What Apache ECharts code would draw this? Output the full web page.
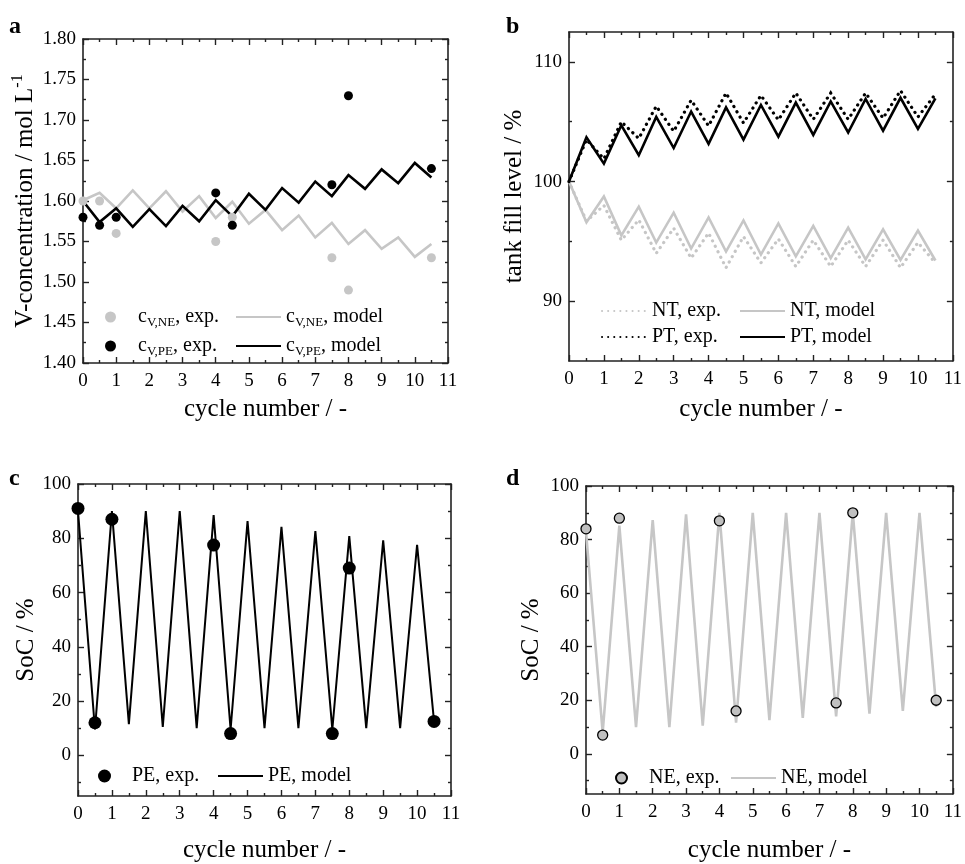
<!DOCTYPE html>
<html>
<head>
<meta charset="utf-8">
<script src="https://cdn.jsdelivr.net/npm/echarts@6/dist/echarts.min.js"></script>
<style>
html, body { margin: 0; padding: 0; background: #fff; }
#chart1 { width: 965px; height: 864px; }
</style>
</head>
<body>
<div id="chart1"></div>
<script>
// half-cycle grid used by all model / tank curves
const cycles = [0, 0.5, 1, 1.5, 2, 2.5, 3, 3.5, 4, 4.5, 5, 5.5, 6, 6.5, 7, 7.5, 8, 8.5, 9, 9.5, 10, 10.5];
const expCycles = [0, 0.5, 1, 4, 4.5, 7.5, 8, 10.5];

// a) vanadium concentration
const cNeModel = [1.601, 1.610, 1.591, 1.613, 1.591, 1.612, 1.587, 1.606, 1.579, 1.599, 1.572, 1.589, 1.564, 1.582, 1.555, 1.573, 1.547, 1.564, 1.541, 1.555, 1.531, 1.547];
const cPeModel = [1.600, 1.574, 1.591, 1.568, 1.590, 1.569, 1.594, 1.575, 1.601, 1.581, 1.609, 1.589, 1.616, 1.598, 1.624, 1.606, 1.632, 1.615, 1.639, 1.622, 1.647, 1.629];
const cNeExp = [1.60, 1.60, 1.56, 1.55, 1.58, 1.53, 1.49, 1.53];
const cPeExp = [1.58, 1.57, 1.58, 1.61, 1.57, 1.62, 1.73, 1.64];

// b) tank fill level
const ntExp = [100, 96.7, 98.0, 95.1, 96.8, 94.0, 96.1, 93.6, 95.7, 92.8, 95.4, 93.2, 95.2, 92.9, 95.1, 92.9, 95.1, 92.9, 95.1, 92.8, 94.9, 93.2];
const ntModel = [100, 96.6, 98.75, 95.5, 97.9, 94.9, 97.4, 94.4, 97.0, 94.15, 96.75, 93.9, 96.5, 93.75, 96.3, 93.6, 96.15, 93.5, 96.0, 93.45, 95.9, 93.4];
const ptExp = [100, 103.5, 101.9, 105.0, 103.6, 106.3, 104.2, 106.8, 104.65, 107.4, 104.9, 107.2, 105.15, 107.4, 105.2, 107.4, 105.2, 107.4, 105.3, 107.6, 105.4, 107.3];
const ptModel = [100, 103.7, 101.5, 104.7, 102.2, 105.4, 102.8, 105.85, 103.15, 106.2, 103.5, 106.4, 103.75, 106.6, 103.9, 106.7, 104.1, 106.9, 104.25, 107.0, 104.4, 106.95];

// c) SoC positive electrolyte
const peModel = [90, 9.5, 90, 11.5, 90, 10.5, 90, 10, 88.5, 9.5, 86.3, 10, 84.2, 10, 82.6, 9.5, 80.8, 10, 79.2, 10, 77.6, 12.4];
const peExp = [91, 12, 87, 77.5, 8, 8, 69, 12.5];

// d) SoC negative electrolyte
const neModel = [83, 8, 85.2, 10, 87.3, 10, 89.4, 10.5, 90, 11.6, 90, 12.6, 90, 13.4, 90, 14, 90, 15, 90, 16, 90, 17.4];
const neExp = [84, 7, 88, 87, 16, 19, 90, 20];

// axis ticks
const concMajor = [1.40, 1.45, 1.50, 1.55, 1.60, 1.65, 1.70, 1.75, 1.80];
const concMinor = [1.425, 1.475, 1.525, 1.575, 1.625, 1.675, 1.725, 1.775];
const tankMajor = [90, 100, 110];
const tankMinor = [95, 105];
const socMajor = [0, 20, 40, 60, 80, 100];
const socMinor = [-10, 10, 30, 50, 70, 90];

const GRAY = '#c6c6c6';
const FONT = '"Liberation Serif", "Times New Roman", serif';
const AXIS = '#222';

const pair = (xs, ys) => xs.map((x, i) => [x, ys[i]]);

const grids = [
    { left: 83, top: 39, width: 365, height: 324 },
    { left: 569, top: 32, width: 386, height: 329 },
    { left: 78, top: 484, width: 373, height: 315 },
    { left: 586, top: 486, width: 369, height: 314 }
];

const rich = {
    n: { fontSize: 20, fontFamily: FONT, color: '#000' },
    s: { fontSize: 13, fontFamily: FONT, color: '#000', padding: [12, 0, 0, 0] },
    t: { fontSize: 25, fontFamily: FONT, color: '#000' },
    u: { fontSize: 16, fontFamily: FONT, color: '#000', padding: [0, 0, 14, 0] }
};

const xAxes = [];
const yAxes = [];
const tickStyle = { color: AXIS, width: 1.4 };

const addAxes = (g, y) => {
    const base = {
        type: 'value', gridIndex: g, min: 0, max: 11, interval: 1,
        axisLine: { onZero: false, lineStyle: { color: AXIS, width: 1.6 } },
        axisTick: { inside: true, length: 6, lineStyle: tickStyle },
        minorTick: { show: true, splitNumber: 2, length: 3, lineStyle: tickStyle },
        splitLine: { show: false }
    };
    xAxes.push(Object.assign({}, base, {
        position: 'bottom',
        axisLabel: { color: '#000', fontSize: 19, fontFamily: FONT, margin: 9 },
        name: 'cycle number / -', nameLocation: 'middle', nameGap: y.xGap,
        nameTextStyle: { color: '#000', fontSize: 25, fontFamily: FONT }
    }));
    xAxes.push(Object.assign({}, base, { position: 'top', axisLabel: { show: false } }));

    const yBase = {
        type: 'value', gridIndex: g, min: y.min, max: y.max,
        axisLine: { onZero: false, lineStyle: { color: AXIS, width: 1.6 } },
        splitLine: { show: false }
    };
    ['left', 'right'].forEach(pos => {
        yAxes.push(Object.assign({}, yBase, {
            position: pos,
            axisTick: { inside: true, length: 6, customValues: y.major, lineStyle: tickStyle },
            axisLabel: pos === 'left'
                ? { customValues: y.major, color: '#000', fontSize: 19, fontFamily: FONT, margin: 7, formatter: y.fmt }
                : { show: false },
            name: pos === 'left' ? y.name : '',
            nameLocation: 'middle', nameGap: y.yGap,
            nameTextStyle: { rich: rich }
        }));
    });
    ['left', 'right'].forEach(pos => {
        yAxes.push(Object.assign({}, yBase, {
            position: pos,
            axisLine: { show: false, onZero: false },
            axisTick: { inside: true, length: 3, customValues: y.minor, lineStyle: tickStyle },
            axisLabel: { show: false }
        }));
    });
};

addAxes(0, { min: 1.4, max: 1.8, major: concMajor, minor: concMinor, fmt: v => v.toFixed(2),
    name: '{t|V-concentration / mol L}{u|-1}', yGap: 43, xGap: 34 });
addAxes(1, { min: 85, max: 112.5, major: tankMajor, minor: tankMinor, fmt: v => String(v),
    name: '{t|tank fill level / %}', yGap: 42, xGap: 36 });
addAxes(2, { min: -15, max: 100, major: socMajor, minor: socMinor, fmt: v => String(v),
    name: '{t|SoC / %}', yGap: 39, xGap: 42 });
addAxes(3, { min: -15, max: 100, major: socMajor, minor: socMinor, fmt: v => String(v),
    name: '{t|SoC / %}', yGap: 42, xGap: 44 });

const lineSeries = (name, g, ys, color, width, type) => ({
    name: name, type: 'line', xAxisIndex: 2 * g, yAxisIndex: 4 * g,
    data: pair(cycles, ys), symbol: 'none', silent: true,
    lineStyle: { color: color, width: width, type: type || 'solid', cap: type ? 'round' : 'butt', join: 'miter' },
    itemStyle: { color: color }
});
const dotSeries = (name, g, ys, color, size, border) => ({
    name: name, type: 'scatter', xAxisIndex: 2 * g, yAxisIndex: 4 * g, z: 5,
    data: pair(expCycles, ys), symbol: 'circle', symbolSize: size, silent: true,
    itemStyle: { color: color, borderColor: border || color, borderWidth: border ? 1.3 : 0, opacity: 1 }
});

const DOTS = [0.1, 6];
const series = [
    lineSeries('cNE model', 0, cNeModel, GRAY, 2.6),
    lineSeries('cPE model', 0, cPeModel, '#000', 2.6),
    dotSeries('cNE exp', 0, cNeExp, GRAY, 9),
    dotSeries('cPE exp', 0, cPeExp, '#000', 9),
    lineSeries('NT exp', 1, ntExp, GRAY, 3.2, DOTS),
    lineSeries('NT model', 1, ntModel, GRAY, 2.6),
    lineSeries('PT exp', 1, ptExp, '#000', 3.2, DOTS),
    lineSeries('PT model', 1, ptModel, '#000', 2.6),
    lineSeries('PE model', 2, peModel, '#000', 2),
    dotSeries('PE exp', 2, peExp, '#000', 13),
    lineSeries('NE model', 3, neModel, GRAY, 2.6),
    dotSeries('NE exp', 3, neExp, '#c0c0c0', 10, '#000')
];

const legendText = {
    'cNE exp': '{n|c}{s|V,NE}{n|, exp.}',
    'cNE model': '{n|c}{s|V,NE}{n|, model}',
    'cPE exp': '{n|c}{s|V,PE}{n|, exp.}',
    'cPE model': '{n|c}{s|V,PE}{n|, model}',
    'NT exp': '{n|NT, exp.}', 'NT model': '{n|NT, model}',
    'PT exp': '{n|PT, exp.}', 'PT model': '{n|PT, model}',
    'PE exp': '{n|PE, exp.}', 'PE model': '{n|PE, model}',
    'NE exp': '{n|NE, exp.}', 'NE model': '{n|NE, model}'
};
// [name, left, centre y, is line, icon height]
const legendPos = [
    ['cNE exp', 105, 319, false, 11], ['cNE model', 235, 319, true, 11],
    ['cPE exp', 105, 348, false, 11], ['cPE model', 235, 348, true, 11],
    ['NT exp', 601, 313, true, 11], ['NT model', 739, 313, true, 11],
    ['PT exp', 601, 339, true, 11], ['PT model', 739, 339, true, 11],
    ['PE exp', 98, 778, false, 13], ['PE model', 217, 778, true, 11],
    ['NE exp', 615, 780, false, 11], ['NE model', 730, 780, true, 11]
];
const legends = legendPos.map(p => {
    const lg = {
        data: [p[0]], left: p[1], top: p[2] - 12, selectedMode: false,
        itemWidth: 45, itemHeight: p[4], itemGap: 0, padding: 0,
        formatter: n => legendText[n],
        textStyle: { rich: rich, fontFamily: FONT, fontSize: 20, color: '#000' }
    };
    // hide the symbol that ECharts puts in the middle of a line icon
    if (p[3]) lg.itemStyle = { color: 'rgba(0,0,0,0)', borderColor: 'rgba(0,0,0,0)', borderWidth: 0, opacity: 0 };
    return lg;
});

const letter = (t, left, top) => ({
    text: t, left: left, top: top, padding: 0,
    textStyle: { fontFamily: FONT, fontWeight: 'bold', fontSize: 24, color: '#000' }
});

const getOption = () => ({
    backgroundColor: '#fff',
    animation: false,
    title: [letter('a', 9, 15), letter('b', 506, 15), letter('c', 9, 467), letter('d', 506, 467)],
    legend: legends,
    grid: grids,
    xAxis: xAxes,
    yAxis: yAxes,
    series: series
});

let chart1;
document.addEventListener('DOMContentLoaded', function () {
    chart1 = echarts.init(document.getElementById('chart1'));
    chart1.setOption(getOption());
});
window.addEventListener('resize', function () {
    chart1.resize();
});
</script>
</body>
</html>
